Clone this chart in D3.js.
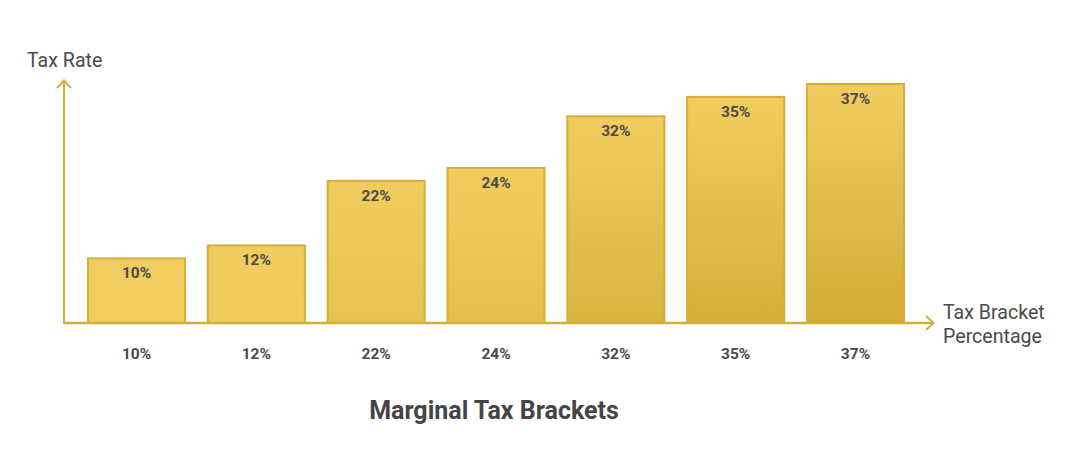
<!DOCTYPE html>
<html>
<head>
<meta charset="utf-8">
<script src="https://cdn.jsdelivr.net/npm/d3@7"></script>
<style>
html,body{margin:0;padding:0;background:#fff;}
svg{display:block;font-family:Roboto,"Noto Sans",sans-serif;}
</style>
</head>
<body>
<svg id="chart" width="1078" height="461"></svg>
<script>
const categories = ["10%", "12%", "22%", "24%", "32%", "35%", "37%"];
const values = [10, 12, 22, 24, 32, 35, 37];
const barLabels = ["10%", "12%", "22%", "24%", "32%", "35%", "37%"];
const title = "Marginal Tax Brackets";
const yAxisTitle = "Tax Rate";
const xAxisTitle = ["Tax Bracket", "Percentage"];

const svg = d3.select("#chart");
const axisColor = "#D4AF37";
const x0 = 64, baseY = 323;

const x = d3.scaleBand().domain(categories).range([76, 916]).paddingInner(0.19).paddingOuter(0.1);
const y = d3.scaleLinear().domain([0, 37]).range([baseY, 84]);

const defs = svg.append("defs");
const dark = d3.scaleLinear().domain([10, 37]).range([0, 1]).clamp(true);
const colorInterp = d3.interpolateRgb("#F0CD5C", "#D3AC36");
values.forEach((v, i) => {
  const g = defs.append("linearGradient").attr("id", "g" + i)
    .attr("x1", 0).attr("y1", 0).attr("x2", 0).attr("y2", 1);
  g.append("stop").attr("offset", 0).attr("stop-color", "#F0CD5E");
  g.append("stop").attr("offset", 1).attr("stop-color", colorInterp(Math.pow(dark(v), 1.3)));
});

// bars
const bars = svg.append("g").selectAll("g").data(values).join("g");
bars.append("rect")
  .attr("x", (d, i) => x(categories[i]))
  .attr("y", d => y(d))
  .attr("width", x.bandwidth())
  .attr("height", d => baseY - y(d))
  .attr("fill", (d, i) => `url(#g${i})`)
  .attr("stroke", axisColor)
  .attr("stroke-width", 2);

bars.append("text")
  .attr("x", (d, i) => x(categories[i]) + x.bandwidth() / 2)
  .attr("y", d => y(d) + 20)
  .attr("text-anchor", "middle")
  .attr("font-size", 15.5)
  .attr("font-weight", 700)
  .attr("fill", "#4a4a4a")
  .text((d, i) => barLabels[i]);

// x-axis category labels
const xAxis = d3.axisBottom(x).tickSize(0).tickPadding(0);
const xg = svg.append("g").attr("transform", `translate(0,${baseY})`).call(xAxis);
xg.select(".domain").remove();
xg.selectAll("text")
  .attr("y", 36)
  .attr("dy", 0)
  .attr("font-size", 15.5)
  .attr("font-weight", 700)
  .attr("font-family", "Roboto, sans-serif")
  .attr("fill", "#4a4a4a");

// axes lines
svg.append("line").attr("x1", x0).attr("y1", baseY).attr("x2", x0).attr("y2", 81)
  .attr("stroke", axisColor).attr("stroke-width", 2);
svg.append("path").attr("d", `M${x0-7},${88}L${x0},${80.5}L${x0+7},${88}`)
  .attr("fill", "none").attr("stroke", axisColor).attr("stroke-width", 2);
svg.append("line").attr("x1", x0 - 1).attr("y1", baseY).attr("x2", 933).attr("y2", baseY)
  .attr("stroke", axisColor).attr("stroke-width", 2.5);
svg.append("path").attr("d", `M926,${baseY-7}L933.5,${baseY}L926,${baseY+7}`)
  .attr("fill", "none").attr("stroke", axisColor).attr("stroke-width", 2);

// axis titles
svg.append("text").attr("x", 27).attr("y", 67)
  .attr("font-size", 19.6).attr("fill", "#4a4a4a").text(yAxisTitle);
svg.append("text").attr("x", 943).attr("y", 319)
  .attr("font-size", 19.6).attr("fill", "#4a4a4a")
  .selectAll("tspan").data(xAxisTitle).join("tspan")
  .attr("x", 943).attr("dy", (d, i) => i === 0 ? 0 : 24).text(d => d);

// title
svg.append("text").attr("x", 494).attr("y", 419)
  .attr("text-anchor", "middle").attr("font-size", 25).attr("font-weight", 700)
  .attr("fill", "#444").text(title);
</script>
</body>
</html>
